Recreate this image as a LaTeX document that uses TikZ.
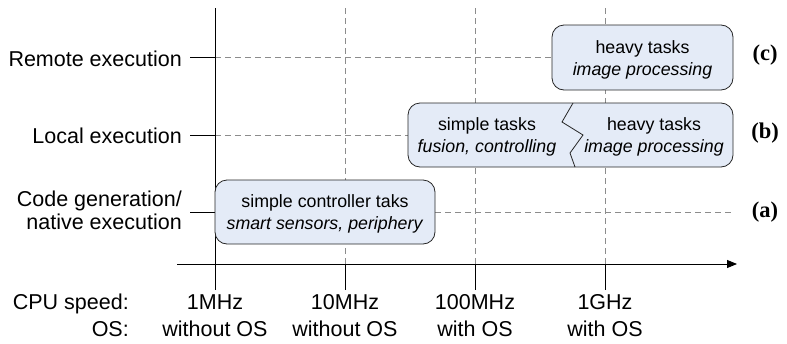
\documentclass[tikz,border=0pt]{standalone}
\usepackage{fontspec}
\setmainfont{Liberation Sans}
\newfontfamily\tagfont{Liberation Serif}
\usetikzlibrary{arrows.meta}
\definecolor{boxblue}{RGB}{228,235,247}
\definecolor{gridgray}{RGB}{140,140,140}
\begin{document}
\begin{tikzpicture}[x=1pt,y=-1pt,
  outer/.style={font=\fontsize{21.5}{23}\selectfont, inner sep=0pt},
  boxtxt/.style={font=\fontsize{17.8}{22}\selectfont, align=center, inner sep=0pt},
  taskbox/.style={draw=black!85, fill=boxblue, rounded corners=12pt, line width=0.8pt, inner sep=0pt},
  gridline/.style={draw=gridgray, dash pattern=on 6pt off 4pt, line width=0.7pt},
  axisline/.style={draw=black, line width=0.9pt},
  tagtxt/.style={font=\tagfont\bfseries\fontsize{22.5}{24}\selectfont, inner sep=0pt}
]
\useasboundingbox (0,0) rectangle (787,343);

% coordinates of the grid
\foreach \n/\x in {a/215,b/345,c/475,d/605}{
  \coordinate (top\n) at (\x,8);
  \coordinate (ax\n) at (\x,264);
  \coordinate (bot\n) at (\x,290);
}
\coordinate (axstart) at (177,264);
\coordinate (axend) at (737,264);

% level labels
\node[outer, anchor=base east] (lremote) at (182,66) {Remote execution};
\node[outer, anchor=base east] (llocal) at (182,143) {Local execution};
\node[outer, anchor=base east] (lcode1) at (182,206) {Code generation/};
\node[outer, anchor=base east] (lcode2) at (182,229) {native execution};

\foreach \n/\y in {r/57,l/135,c/212}{
  \coordinate (\n0) at (190,\y);
  \coordinate (\n1) at (215,\y);
  \coordinate (\n2) at (732,\y);
  \draw[axisline] (\n0) -- (\n1);
  \draw[gridline] (\n1) -- (\n2);
}

% vertical grid
\draw[axisline] (topa) -- (bota);
\foreach \n in {b,c,d}{
  \draw[gridline] (top\n) -- (ax\n);
  \draw[axisline] (ax\n) -- (bot\n);
}
\draw[axisline, -{Triangle[length=10pt,width=8pt]}] (axstart) -- (axend);

% boxes
\node[taskbox, minimum width=181pt, minimum height=65pt] (boxc) at (642.5,57.5) {};
\node[boxtxt] (tc) at (642.5,59.5) {heavy tasks\\\textit{image processing}};

\node[taskbox, minimum width=325pt, minimum height=64pt] (boxb) at (570.5,135) {};
\draw[draw=black!85, line width=0.8pt] (573,103) -- (562,122) -- (583,135) -- (570,153) -- (575,167);
\node[boxtxt] (tb1) at (487,137) {simple tasks\\\textit{fusion, controlling}};
\node[boxtxt] (tb2) at (654,137) {heavy tasks\\\textit{image processing}};

\node[taskbox, minimum width=220pt, minimum height=64pt] (boxa) at (325,212) {};
\node[boxtxt] (ta) at (325,214) {simple controller taks\\\textit{smart sensors, periphery}};

% tags
\node[tagtxt] (tagc) at (765,55) {(c)};
\node[tagtxt] (tagb) at (765,133) {(b)};
\node[tagtxt] (taga) at (765,212) {(a)};

% bottom labels
\node[outer, anchor=base east] (cpu) at (129,309) {CPU speed:};
\node[outer, anchor=base east] (os) at (129,336) {OS:};
\foreach \n/\x/\s/\o in {a/215/1MHz/without OS,b/345/10MHz/without OS,c/475/100MHz/with OS,d/605/1GHz/with OS}{
  \node[outer, anchor=base] (sp\n) at (\x,309) {\s};
  \node[outer, anchor=base] (os\n) at (\x,336) {\o};
}
\end{tikzpicture}
\end{document}
